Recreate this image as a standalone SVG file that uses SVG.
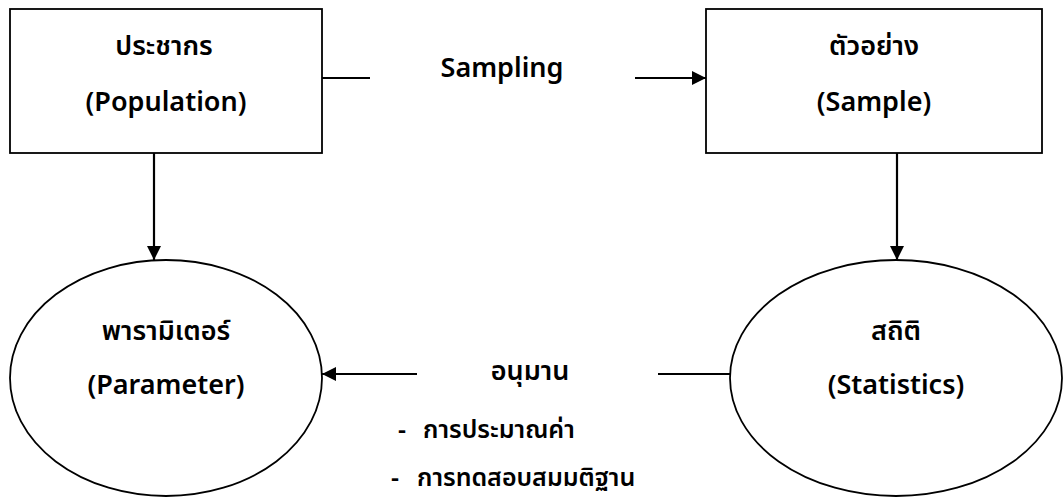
<svg xmlns="http://www.w3.org/2000/svg" width="1064" height="500" viewBox="0 0 1064 500">
  <style>
    .box { fill: #fff; stroke: #000; stroke-width: 1.8; }
    .conn { fill: none; stroke: #000; stroke-width: 2.2; }
    .lbl { font-family: "Noto Sans", "Noto Sans Thai", "DejaVu Sans", sans-serif; font-size: 27px; font-weight: 600; fill: #000; text-anchor: middle; }
    .item { font-family: "Noto Sans", "Noto Sans Thai", "DejaVu Sans", sans-serif; font-size: 25px; font-weight: 600; fill: #000; }
  </style>
  <defs>
    <marker id="arrow" viewBox="0 0 10 10" refX="10" refY="5" markerWidth="14" markerHeight="15" markerUnits="userSpaceOnUse" orient="auto">
      <path d="M0,0 L10,5 L0,10 z" fill="#000"/>
    </marker>
  </defs>
  <rect width="1064" height="500" fill="#fff"/>

  <g id="connectors">
    <line class="conn" x1="322" y1="78" x2="370" y2="78"/>
    <line class="conn" x1="635" y1="78" x2="706" y2="78" marker-end="url(#arrow)"/>
    <line class="conn" x1="154" y1="153" x2="154" y2="260" marker-end="url(#arrow)"/>
    <line class="conn" x1="897" y1="153" x2="897" y2="260" marker-end="url(#arrow)"/>
    <line class="conn" x1="417" y1="374" x2="322" y2="374" marker-end="url(#arrow)"/>
    <line class="conn" x1="658" y1="374" x2="730" y2="374"/>
  </g>

  <g id="population">
    <rect class="box" x="10" y="9" width="312" height="144"/>
    <text class="lbl" x="164" y="55">ประชากร</text>
    <text class="lbl" x="166" y="111">(Population)</text>
  </g>

  <g id="sampling-label">
    <text class="lbl" x="502" y="77">Sampling</text>
  </g>

  <g id="sample">
    <rect class="box" x="706" y="9" width="336" height="144"/>
    <text class="lbl" x="874" y="55">ตัวอย่าง</text>
    <text class="lbl" x="874" y="111">(Sample)</text>
  </g>

  <g id="parameter">
    <ellipse class="box" cx="166" cy="378" rx="156" ry="118"/>
    <text class="lbl" x="166" y="340">พารามิเตอร์</text>
    <text class="lbl" x="166" y="394">(Parameter)</text>
  </g>

  <g id="statistics">
    <ellipse class="box" cx="896" cy="378" rx="166" ry="118"/>
    <text class="lbl" x="896" y="340">สถิติ</text>
    <text class="lbl" x="896" y="394">(Statistics)</text>
  </g>

  <g id="inference">
    <text class="lbl" x="530" y="380">อนุมาน</text>
    <text class="item" y="438"><tspan x="398">-</tspan><tspan x="423">การประมาณค่า</tspan></text>
    <text class="item" y="486"><tspan x="391">-</tspan><tspan x="417">การทดสอบสมมติฐาน</tspan></text>
  </g>
</svg>
